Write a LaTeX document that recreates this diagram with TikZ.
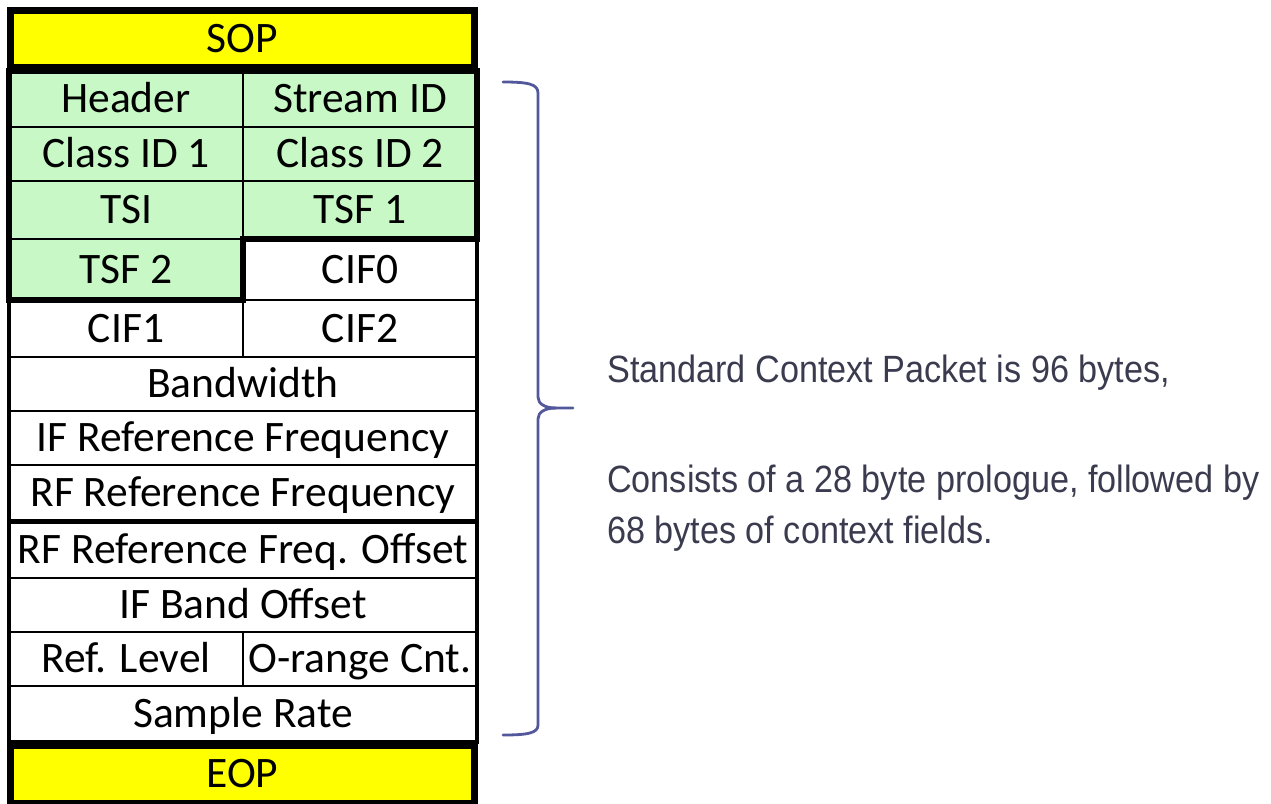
\documentclass[tikz,border=0pt]{standalone}
\usepackage{fontspec}
\setmainfont{Carlito}
\newfontfamily\notefont[FakeStretch=0.90]{Liberation Sans}
\definecolor{sopyellow}{HTML}{FFFF00}
\definecolor{progreen}{HTML}{C7F8C6}
\definecolor{notetext}{HTML}{3A3B4E}
\definecolor{bracecol}{HTML}{53589C}
\tikzset{
  cell/.style={draw=black, line width=2.4pt, fill=white, inner sep=0pt, outer sep=0pt,
    text height=27pt, text depth=0pt, font=\fontsize{43.5}{50}\selectfont},
  pro/.style={cell, fill=progreen},
  fullw/.style={minimum width=468pt},
  halfw/.style={minimum width=234pt},
  endbox/.style={draw=black, line width=7pt, fill=sopyellow, inner sep=0pt, outer sep=0pt,
    minimum width=464pt, text height=27pt, text depth=0pt, font=\fontsize{43.5}{50}\selectfont},
  note/.style={anchor=base west, inner sep=0pt, text=notetext, font=\notefont\fontsize{38}{46}\selectfont},
  bracepath/.style={draw=bracecol, line width=2.8pt, line cap=round, line join=round}
}
\begin{document}
\begin{tikzpicture}[x=1pt,y=-1pt]
\fill[white] (0,0) rectangle (1271,803);
\useasboundingbox (0,0) rectangle (1271,803);

% prologue cells
\node[pro, halfw, minimum height=56pt] (hdr) at (126,99) {Header};
\node[pro, halfw, minimum height=56pt] (sid) at (360,99) {Stream ID};
\node[pro, halfw, minimum height=54pt] (cls1) at (126,154) {Class ID 1};
\node[pro, halfw, minimum height=54pt] (cls2) at (360,154) {Class ID 2};
\node[pro, halfw, minimum height=58pt] (tsi) at (126,210) {TSI};
\node[pro, halfw, minimum height=58pt] (tsf1) at (360,210) {TSF 1};
\node[pro, halfw, minimum height=61pt] (tsf2) at (126,269.5) {TSF 2};
% context fields
\node[cell, halfw, minimum height=61pt] (cif0) at (360,269.5) {CIF0};
\node[cell, halfw, minimum height=57pt] (cif1) at (126,328.5) {CIF1};
\node[cell, halfw, minimum height=57pt] (cif2) at (360,328.5) {CIF2};
\node[cell, fullw, minimum height=54pt] (bw) at (243,384) {Bandwidth};
\node[cell, fullw, minimum height=54pt] (ifref) at (243,438) {IF Reference Frequency};
\node[cell, fullw, minimum height=56pt] (rfref) at (243,493) {RF Reference Frequency};
\node[cell, fullw, minimum height=57pt] (rfoff) at (243,549.5) {RF Reference Freq. Offset};
\node[cell, fullw, minimum height=54pt] (ifband) at (243,605) {IF Band Offset};
\node[cell, halfw, minimum height=54pt] (reflvl) at (126,659) {Ref. Level};
\node[cell, halfw, minimum height=54pt] (orng) at (360,659) {O-range Cnt.};
\node[cell, fullw, minimum height=56pt] (samp) at (243,714) {Sample Rate};

% outer frame and heavy separators
\draw[line width=3.5pt] (hdr.north west) rectangle (samp.south east);
\draw[line width=5pt] (rfref.south west) -- (rfref.south east);
\draw[line width=6pt, line join=miter] (hdr.north west) -- (sid.north east) -- (tsf1.south east)
  -- (tsf2.north east) -- (tsf2.south east) -- (tsf2.south west) -- cycle;

% start and end of packet
\node[endbox, minimum height=57pt] (sop) at (242.5,39) {SOP};
\node[endbox, minimum height=58.5pt] (eop) at (242.5,774.25) {EOP};

% brace
\coordinate (btop) at (503,82);
\coordinate (btip) at (573,408);
\coordinate (bbot) at (503,735);
\draw[bracepath] (btop) .. controls (528,82) and (538,84) .. (538,93) -- (538,397)
  .. controls (538,404) and (545,408) .. (556,408) -- (btip);
\draw[bracepath] (556,408) .. controls (545,408) and (538,412) .. (538,419) -- (538,725)
  .. controls (538,733) and (528,735) .. (bbot);

% note text
\node[note] (n1) at (607,382) {Standard Context Packet is 96 bytes,};
\node[note] (n2) at (607,492) {Consists of a 28 byte prologue, followed by};
\node[note] (n3) at (607,543) {68 bytes of context fields.};
\end{tikzpicture}
\end{document}
